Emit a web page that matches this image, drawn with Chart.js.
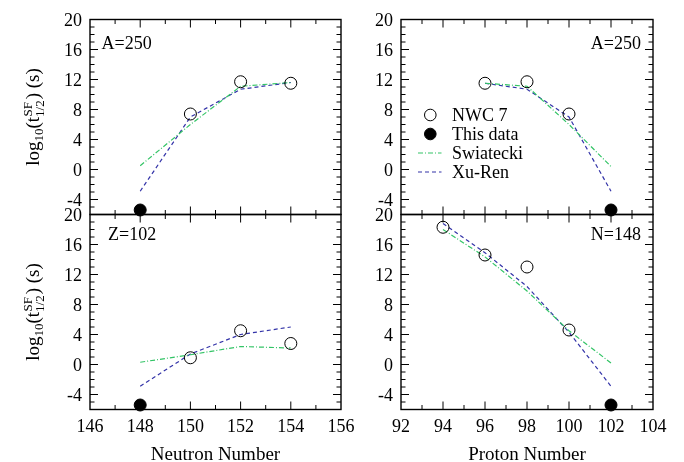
<!DOCTYPE html>
<html><head><meta charset="utf-8">
<script src="https://cdn.jsdelivr.net/npm/chart.js@4.4.0/dist/chart.umd.min.js"></script>
<style>
html,body{margin:0;padding:0;background:#fff;}
#wrap{position:relative;width:684px;height:462px;background:#fff;}
canvas{position:absolute;left:0;top:0;width:684px;height:462px;}
</style></head><body><div id="wrap">
<canvas id="c1" width="684" height="462"></canvas>
<canvas id="c2" width="684" height="462"></canvas>
<canvas id="c3" width="684" height="462"></canvas>
<canvas id="c4" width="684" height="462"></canvas>
</div>
<script>
// ---- data ----
const yTickValues = [-4, 0, 4, 8, 12, 16, 20];
const neutronTicks = [146, 148, 150, 152, 154, 156];
const protonTicks = [92, 94, 96, 98, 100, 102, 104];

// A=250 vs neutron number
const a250N_x = [148, 150, 152, 154];
const a250N_nwc = [null, 7.4, 11.7, 11.5];
const a250N_this = [-5.4, null, null, null];
const a250N_swi = [0.5, 6.0, 11.1, 11.6];
const a250N_xu = [-2.9, 7.0, 10.7, 11.6];

// A=250 vs proton number
const a250Z_x = [96, 98, 100, 102];
const a250Z_nwc = [11.5, 11.7, 7.4, null];
const a250Z_this = [null, null, null, -5.4];
const a250Z_swi = [11.5, 11.1, 6.0, 0.4];
const a250Z_xu = [11.5, 10.7, 7.0, -2.9];

// Z=102 vs neutron number
const z102_x = [148, 150, 152, 154];
const z102_nwc = [null, 0.9, 4.5, 2.8];
const z102_this = [-5.4, null, null, null];
const z102_swi = [0.3, 1.3, 2.4, 2.2];
const z102_xu = [-2.9, 1.4, 4.0, 5.0];

// N=148 vs proton number
const n148_x = [94, 96, 98, 100, 102];
const n148_nwc = [18.3, 14.6, 13.0, 4.6, null];
const n148_this = [null, null, null, null, -5.4];
const n148_swi = [18.0, 14.35, 9.8, 4.5, 0.2];
const n148_xu = [18.8, 14.9, 10.4, 4.3, -2.9];

const seriesNames = ['NWC 7', 'This data', 'Swiatecki', 'Xu-Ren'];

// ---- styling ----
const SERIF = '"Liberation Serif", "Times New Roman", serif';
const GREEN = '#33c466';
const BLUE = '#3333a8';

function pts(xs, ys) {
  const out = [];
  xs.forEach((x, i) => { if (ys[i] !== null && ys[i] !== undefined) out.push({x: x, y: ys[i]}); });
  return out;
}

function datasets(xs, nwc, th, swi, xu) {
  return [
    {label: seriesNames[0], data: pts(xs, nwc), showLine: false, pointStyle: 'circle', pointRadius: 6,
     pointBorderColor: '#000', pointBackgroundColor: 'rgba(0,0,0,0)', pointBorderWidth: 1, clip: false},
    {label: seriesNames[1], data: pts(xs, th), showLine: false, pointStyle: 'circle', pointRadius: 6,
     pointBorderColor: '#000', pointBackgroundColor: '#000', pointBorderWidth: 1, clip: false},
    {label: seriesNames[2], data: pts(xs, swi), borderColor: GREEN, borderWidth: 1.2, borderDash: [5, 2, 1, 2],
     pointRadius: 0, fill: false, tension: 0, clip: false},
    {label: seriesNames[3], data: pts(xs, xu), borderColor: BLUE, borderWidth: 1.2, borderDash: [4, 3],
     pointRadius: 0, fill: false, tension: 0, clip: false}
  ];
}

function drawYTitle(ctx, bx, cy) {
  const big = 'normal 19px ' + SERIF, small = 'normal 13px ' + SERIF;
  const segs = [
    {t: 'log', f: big, dy: 0},
    {t: '10', f: small, dy: 4},
    {t: '(t', f: big, dy: 0},
    {stack: true, top: 'SF', bot: '1/2', f: small},
    {t: ')', f: big, dy: 0},
    {t: ' (s)', f: big, dy: 0}
  ];
  ctx.save();
  let total = 0;
  segs.forEach(s => {
    ctx.font = s.f;
    s.w = s.stack ? Math.max(ctx.measureText(s.top).width, ctx.measureText(s.bot).width) + 1 : ctx.measureText(s.t).width;
    total += s.w;
  });
  ctx.translate(bx, cy);
  ctx.rotate(-Math.PI / 2);
  ctx.fillStyle = '#000';
  ctx.textBaseline = 'alphabetic';
  ctx.textAlign = 'left';
  let x = -total / 2;
  segs.forEach(s => {
    ctx.font = s.f;
    if (s.stack) {
      ctx.fillText(s.top, x + 0.5, -6.5);
      ctx.fillText(s.bot, x, 5);
    } else {
      ctx.fillText(s.t, x, s.dy);
    }
    x += s.w;
  });
  ctx.restore();
}

const decorPlugin = {
  id: 'decor',
  beforeDatasetsDraw(chart) {
    const {ctx, chartArea: a, scales: {x, y}} = chart;
    ctx.save();
    ctx.strokeStyle = '#000';
    ctx.lineWidth = 1;
    ctx.beginPath();
    for (let v = Math.ceil(x.min) + 1; v < x.max; v++) {
      const px = x.getPixelForValue(v);
      const len = (v % 2 === 0) ? 8 : 4.5;
      ctx.moveTo(px, a.bottom); ctx.lineTo(px, a.bottom - len);
      ctx.moveTo(px, a.top); ctx.lineTo(px, a.top + len);
    }
    for (let v = Math.ceil(y.min) + 1; v < y.max; v++) {
      const py = y.getPixelForValue(v);
      const len = (v % 4 === 0) ? 8 : 4.5;
      ctx.moveTo(a.left, py); ctx.lineTo(a.left + len, py);
      ctx.moveTo(a.right, py); ctx.lineTo(a.right - len, py);
    }
    ctx.stroke();
    ctx.lineWidth = 1.4;
    ctx.strokeRect(a.left, a.top, a.right - a.left, a.bottom - a.top);
    ctx.restore();
  },
  afterDraw(chart) {
    const o = chart.options.plugins.decor;
    const {ctx, chartArea: a} = chart;
    ctx.save();
    ctx.fillStyle = '#000';
    ctx.textBaseline = 'alphabetic';
    ctx.font = 'normal 18px ' + SERIF;
    if (o.label) {
      ctx.textAlign = o.labelAlign;
      ctx.fillText(o.label, o.labelX, o.labelY);
    }
    if (o.yTitle) drawYTitle(ctx, 38.5, (a.top + a.bottom) / 2);
    if (o.xTitle) {
      ctx.font = 'normal 19px ' + SERIF;
      ctx.textAlign = 'center';
      ctx.fillText(o.xTitle, (a.left + a.right) / 2, 459.5);
    }
    if (o.legend) {
      const ds = chart.data.datasets;
      const rows = [115, 134, 153, 172];
      const sx = 430.3, lx0 = 418, lx1 = 441.5, tx = 452;
      ds.forEach((d, i) => {
        const ry = rows[i];
        if (d.showLine === false) {
          ctx.beginPath();
          ctx.arc(sx, ry, 5.8, 0, Math.PI * 2);
          ctx.fillStyle = d.pointBackgroundColor;
          ctx.fill();
          ctx.lineWidth = 1;
          ctx.strokeStyle = '#000';
          ctx.stroke();
        } else {
          ctx.beginPath();
          ctx.setLineDash(d.borderDash);
          ctx.strokeStyle = d.borderColor;
          ctx.lineWidth = 1.2;
          ctx.moveTo(lx0, ry); ctx.lineTo(lx1, ry);
          ctx.stroke();
          ctx.setLineDash([]);
        }
        ctx.fillStyle = '#000';
        ctx.textAlign = 'left';
        ctx.font = 'normal 18px ' + SERIF;
        ctx.fillText(d.label, tx, ry + 5.7);
      });
    }
    ctx.restore();
  }
};

function makePanel(id, cfg) {
  const yW = 50;
  const xH = cfg.xLabels ? 30 : 0;
  new Chart(document.getElementById(id), {
    type: 'line',
    data: {datasets: cfg.datasets},
    plugins: [decorPlugin],
    options: {
      responsive: false,
      animation: false,
      events: [],
      layout: {padding: {left: cfg.l - yW, right: 684 - cfg.r, top: cfg.t, bottom: 462 - cfg.b - xH}},
      plugins: {
        legend: {display: false},
        tooltip: {enabled: false},
        decor: cfg.decor
      },
      scales: {
        x: {
          type: 'linear', min: cfg.xMin, max: cfg.xMax,
          grid: {display: false, drawTicks: false}, border: {display: false},
          afterBuildTicks: s => { s.ticks = cfg.xTicks.map(v => ({value: v})); },
          afterFit: s => { s.height = xH; },
          ticks: {display: !!cfg.xLabels, padding: 7, color: '#000', maxRotation: 0, autoSkip: false,
                  font: {family: SERIF, size: 18}}
        },
        y: {
          type: 'linear', min: -6, max: 20,
          grid: {display: false, drawTicks: false}, border: {display: false},
          afterBuildTicks: s => { s.ticks = yTickValues.map(v => ({value: v})); },
          afterFit: s => { s.width = yW; },
          ticks: {padding: 8, color: '#000', autoSkip: false, labelOffset: 1.5, font: {family: SERIF, size: 18}}
        }
      }
    }
  });
}

makePanel('c1', {l: 90, r: 341, t: 19.5, b: 214.5, xMin: 146, xMax: 156, xTicks: neutronTicks, xLabels: false,
  datasets: datasets(a250N_x, a250N_nwc, a250N_this, a250N_swi, a250N_xu),
  decor: {label: 'A=250', labelAlign: 'left', labelX: 101.5, labelY: 49, yTitle: true}});
makePanel('c2', {l: 401, r: 653, t: 19.5, b: 214.5, xMin: 92, xMax: 104, xTicks: protonTicks, xLabels: false,
  datasets: datasets(a250Z_x, a250Z_nwc, a250Z_this, a250Z_swi, a250Z_xu),
  decor: {label: 'A=250', labelAlign: 'right', labelX: 641, labelY: 49, legend: true}});
makePanel('c3', {l: 90, r: 341, t: 214.5, b: 409.5, xMin: 146, xMax: 156, xTicks: neutronTicks, xLabels: true,
  datasets: datasets(z102_x, z102_nwc, z102_this, z102_swi, z102_xu),
  decor: {label: 'Z=102', labelAlign: 'left', labelX: 108, labelY: 239.5, yTitle: true, xTitle: 'Neutron Number'}});
makePanel('c4', {l: 401, r: 653, t: 214.5, b: 409.5, xMin: 92, xMax: 104, xTicks: protonTicks, xLabels: true,
  datasets: datasets(n148_x, n148_nwc, n148_this, n148_swi, n148_xu),
  decor: {label: 'N=148', labelAlign: 'right', labelX: 641, labelY: 239.5, xTitle: 'Proton Number'}});
</script>
</body></html>
